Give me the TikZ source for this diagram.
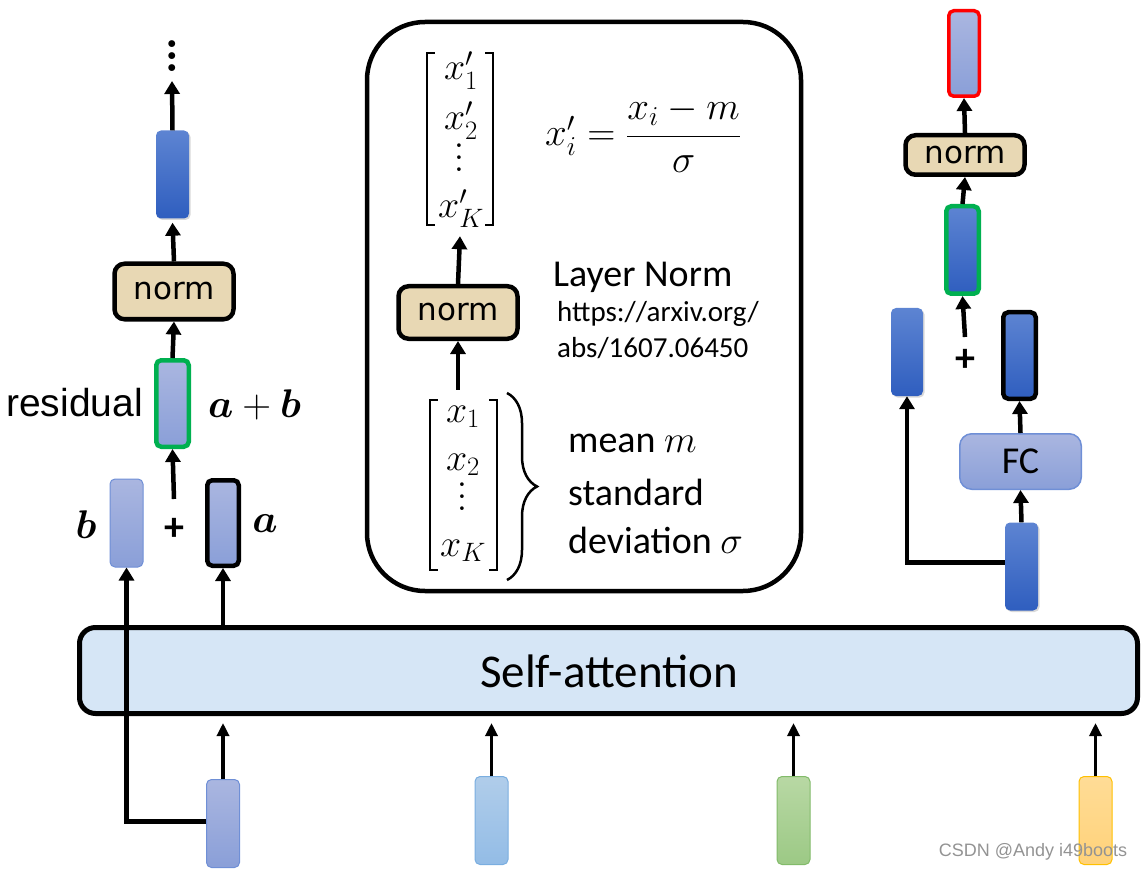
\RequirePackage{fix-cm}
\documentclass[tikz,border=0pt]{standalone}
\usepackage{amsmath}
\usepackage{bm}
\usepackage{fontspec}
\setmainfont{Carlito}
\newfontfamily\normfont{DejaVu Sans}
\newfontfamily\arialfont{Liberation Sans}
\usetikzlibrary{arrows.meta,decorations.pathreplacing,shadows,calc}
\newcommand\fs[1]{\fontsize{#1}{#1}\selectfont}
\newcommand\vdts[1]{\vbox{\baselineskip=#1\lineskiplimit=0pt\hbox{$.$}\hbox{$.$}\hbox{$.$}}}
\definecolor{dbtop}{HTML}{5D84D2}
\definecolor{dbbot}{HTML}{2F5EBF}
\definecolor{lavtop}{HTML}{AAB6E0}
\definecolor{lavbot}{HTML}{8A9FD8}
\definecolor{tanc}{HTML}{E8D8B4}
\definecolor{greenb}{HTML}{00B050}
\definecolor{lavborder}{HTML}{6F8FD6}
\definecolor{satt}{HTML}{D6E6F6}
\definecolor{bltop}{HTML}{B0CDEA}
\definecolor{blbot}{HTML}{93BCE6}
\definecolor{blborder}{HTML}{7AAEE0}
\definecolor{grtop}{HTML}{B8D8A4}
\definecolor{grbot}{HTML}{9CC985}
\definecolor{grborder}{HTML}{82BB6A}
\definecolor{yetop}{HTML}{FFDC96}
\definecolor{yebot}{HTML}{FFD27A}
\definecolor{yeborder}{HTML}{FFC000}
\tikzset{
  arr/.style={line width=4.5pt,-{Triangle[length=13pt,width=15pt]}},
  inarr/.style={line width=3.2pt,-{Triangle[length=13pt,width=12pt]}},
  vecb/.style={rounded corners=5pt,inner sep=0pt,minimum width=33pt,minimum height=88pt},
  dark/.style={vecb,top color=dbtop,bottom color=dbbot,drop shadow={shadow xshift=1.5pt,shadow yshift=-1.5pt,opacity=.3}},
  lav/.style={vecb,top color=lavtop,bottom color=lavbot},
  normbox/.style={draw,line width=4.5pt,rounded corners=10pt,fill=tanc,minimum width=119pt,inner sep=0pt,font=\normfont\fs{31}},
  brk/.style={line width=2.2pt},
  lbl/.style={inner sep=0pt},
}
\begin{document}
\begin{tikzpicture}[x=1pt,y=-1pt]
\useasboundingbox (0,0) rectangle (1144,869);

% ---------------- Left column ----------------
\node[lbl,font=\boldmath\fs{44}] (dots1) at (172,56) {\vdts{12pt}};
\coordinate (dotsbot) at (172,81);
\node[dark] (blk1) at (172.5,174.5) {};
\node[normbox,minimum height=55.5pt] (norm1) at (174,291.5) {norm};
\node[lav,draw=greenb,line width=4.5pt,minimum width=32.5pt,minimum height=86.5pt] (g1) at (172.5,403.5) {};
\node[lbl,anchor=base west,font=\arialfont\fs{39}] (resid) at (6,416) {residual};
\node[lbl,anchor=base west,font=\fs{40}] (apb) at (208,417) {$\bm{a}+\bm{b}$};
\node[lbl,font=\bfseries\fs{40}] (plus1) at (174,529) {+};
\coordinate (plus1top) at (174,499);
\node[lav,draw=lavborder,line width=1pt] (bblk) at (126.5,523) {};
\node[lav,draw=black,line width=4.5pt,minimum width=31.5pt,minimum height=85.5pt] (ablk) at (223,523) {};
\node[lbl,anchor=base,font=\fs{40}] (blab) at (86,538) {$\bm{b}$};
\node[lbl,anchor=base,font=\fs{40}] (alab) at (265,532) {$\bm{a}$};

\draw[arr] (blk1.north) -- (dotsbot);
\draw[arr] (norm1.north) -- ([yshift=-4pt]blk1.south);
\draw[arr] (g1.north) -- (norm1.south);
\draw[arr] (plus1top) -- (g1.south);

% ---------------- Center box ----------------
\node[draw,line width=4.5pt,rounded corners=58pt,minimum width=434pt,minimum height=569pt,inner sep=0pt] (lnbox) at (584,306.5) {};
\node[inner sep=0pt,minimum width=66pt,minimum height=172pt] (xt) at (460,139) {};
\draw[brk] ($(xt.north west)+(8,0)$) -- (xt.north west) -- (xt.south west) -- ++(8,0);
\draw[brk] ($(xt.north east)+(-8,0)$) -- (xt.north east) -- (xt.south east) -- ++(-8,0);
\node[lbl,anchor=base,font=\fs{38}] (xt1) at (461,80) {$x'_1$};
\node[lbl,anchor=base,font=\fs{38}] (xt2) at (461,130) {$x'_2$};
\node[lbl,font=\fs{38}] (xt3) at (459,158) {\vdts{12pt}};
\node[lbl,anchor=base,font=\fs{38}] (xt4) at (461,218) {$x'_K$};
\node[lbl,anchor=base west,font=\fs{39}] (formula) at (545,146) {$x'_i=\dfrac{x_i-m}{\sigma}$};

\node[normbox,minimum height=52.5pt] (norm2) at (458,312.5) {norm};
\node[lbl,anchor=base west,font=\fs{38}] (lnt) at (553,287) {Layer Norm};
\node[lbl,anchor=base west,font=\fs{29}] (url1) at (557,322) {https://arxiv.org/};
\node[lbl,anchor=base west,font=\fs{29}] (url2) at (557,357) {abs/1607.06450};

\node[inner sep=0pt,minimum width=67pt,minimum height=170pt] (xb) at (463.5,485) {};
\draw[brk] ($(xb.north west)+(8,0)$) -- (xb.north west) -- (xb.south west) -- ++(8,0);
\draw[brk] ($(xb.north east)+(-8,0)$) -- (xb.north east) -- (xb.south east) -- ++(-8,0);
\node[lbl,anchor=base,font=\fs{38}] (xb1) at (463,422) {$x_1$};
\node[lbl,anchor=base,font=\fs{38}] (xb2) at (463,470) {$x_2$};
\node[lbl,font=\fs{38}] (xb3) at (462,497) {\vdts{12pt}};
\node[lbl,anchor=base,font=\fs{38}] (xb4) at (463,556) {$x_K$};
\draw[line width=2.5pt,decorate,decoration={brace,amplitude=30pt,aspect=0.5}] (507,393) -- (507,580);
\node[lbl,anchor=base west,font=\fs{38}] (mean) at (568,452) {mean $m$};
\node[lbl,anchor=base west,font=\fs{38}] (std) at (568,505) {standard};
\node[lbl,anchor=base west,font=\fs{38}] (dev) at (568,553) {deviation $\sigma$};

\draw[arr] (norm2.north) -- ([yshift=-11pt]xt.south);
\draw[arr] ([yshift=10pt]xb.north -| norm2.south) -- (norm2.south);

% ---------------- Right column ----------------
\node[lav,draw=red,line width=3.5pt,minimum width=30.5pt,minimum height=85.5pt] (red) at (964,53.5) {};
\node[normbox,minimum height=39.5pt] (norm3) at (965,155) {norm};
\node[dark,draw=greenb,line width=4.5pt,minimum width=32.5pt,minimum height=87.5pt] (g2) at (962.5,250) {};
\node[lbl,font=\bfseries\fs{40}] (plus2) at (965,360) {+};
\coordinate (plus2top) at (965,337);
\node[dark,minimum width=32pt] (lb) at (907,352) {};
\node[dark,draw=black,line width=4.5pt,minimum width=32.5pt,minimum height=86.5pt] (rb) at (1019.5,355.5) {};
\node[draw=lavborder,line width=1.5pt,rounded corners=12pt,top color=lavtop,bottom color=lavbot,minimum width=121.5pt,minimum height=55.5pt,inner sep=0pt,font=\fs{38}] (fc) at (1020.5,461.5) {FC};
\node[dark] (bb) at (1021.5,566.5) {};

\draw[arr] (norm3.north) -- (red.south);
\draw[arr] (g2.north) -- (norm3.south);
\draw[arr] (plus2top) -- (g2.south);
\draw[arr] (fc.north) -- (rb.south);
\draw[arr] (bb.north) -- (fc.south);
\draw[arr] ([yshift=4pt]bb.west) -- ([yshift=4pt]bb.west -| lb.south) -- (lb.south);

% ---------------- Self-attention and inputs ----------------
\node[draw,line width=5pt,rounded corners=16pt,fill=satt,minimum width=1058pt,minimum height=86pt,inner sep=0pt] (sa) at (608.5,670.5) {};
\node[lbl,anchor=base,font=\fs{47}] (satext) at (609,687) {Self-attention};

\node[lav,draw=lavborder,line width=1pt,minimum height=88pt] (in1) at (223,823.5) {};
\node[vecb,top color=bltop,bottom color=blbot,draw=blborder,line width=1pt] (in2) at (491.5,820.5) {};
\node[vecb,top color=grtop,bottom color=grbot,draw=grborder,line width=1pt] (in3) at (793.5,820.5) {};
\node[vecb,top color=yetop,bottom color=yebot,draw=yeborder,line width=1pt] (in4) at (1095.5,820.5) {};

\foreach \n in {in1,in2,in3,in4}
  \draw[inarr,shorten >=7pt] (\n.north) -- (\n.north |- sa.south);

\draw[arr] (ablk.south |- sa.north) -- (ablk.south);
\draw[arr] ([yshift=2pt]in1.west) -- ([yshift=2pt]in1.west -| bblk.south) -- (bblk.south);

\node[lbl,anchor=base,font=\arialfont\fs{18},text=gray!85] (wm) at (1033,856) {CSDN @Andy i49boots};
\end{tikzpicture}
\end{document}
